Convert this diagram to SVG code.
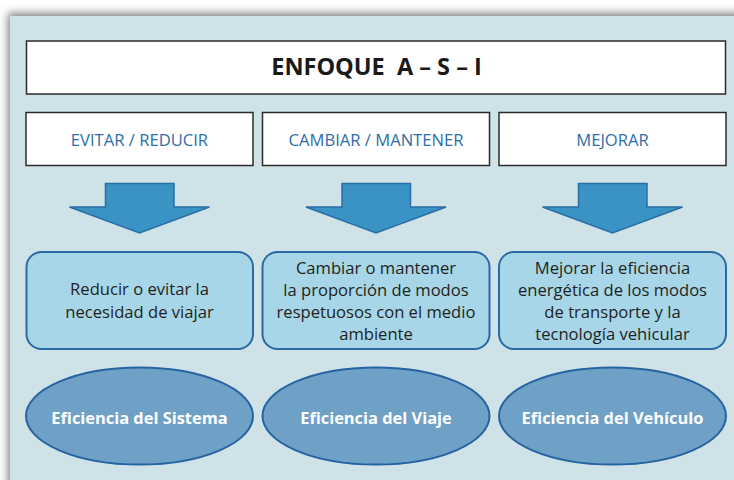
<svg xmlns="http://www.w3.org/2000/svg" width="734" height="480" viewBox="0 0 734 480">
<style>
  .hdr { fill:#fff; stroke:#2b2b2b; stroke-width:1.5; }
  .hdrtxt { font-family:"Open Sans","Noto Sans",sans-serif; font-size:16.6px; fill:#2e6ea6; text-anchor:middle; }
  .title { font-family:"Open Sans","Noto Sans",sans-serif; font-size:23.5px; font-weight:bold; fill:#1a1a1a; text-anchor:middle; }
  .arrow { fill:#3a93c4; stroke:#2a6ea6; stroke-width:1.5; stroke-linejoin:miter; }
  .box { fill:#a6d6e7; stroke:#2a6aa3; stroke-width:2; }
  .boxtxt { font-family:"Open Sans","Noto Sans",sans-serif; font-size:16.6px; fill:#231f20; text-anchor:middle; }
  .ell { fill:#6fa1c7; stroke:#2563a1; stroke-width:2; }
  .elltxt { font-family:"Open Sans","Noto Sans",sans-serif; font-size:16.4px; font-weight:bold; fill:#fff; text-anchor:middle; }
</style>
<defs>
  <filter id="sh" x="-5%" y="-5%" width="110%" height="110%">
    <feDropShadow dx="-2" dy="-3" stdDeviation="4.5" flood-color="#000" flood-opacity="0.5"/>
  </filter>
</defs>
<rect width="734" height="480" fill="#fff"/>
<rect id="panel" x="10" y="16" width="740" height="480" fill="#cfe2e8" filter="url(#sh)"/>

<g id="title">
  <rect class="hdr" x="26.5" y="41" width="699" height="53"/>
  <text class="title" x="376.5" y="75" xml:space="preserve">ENFOQUE  A – S – I</text>
</g>

<g id="h1">
  <rect class="hdr" x="26" y="112.5" width="227" height="53"/>
  <text class="hdrtxt" x="139.5" y="145.5">EVITAR / REDUCIR</text>
</g>
<g id="h2">
  <rect class="hdr" x="262.5" y="112.5" width="227" height="53"/>
  <text class="hdrtxt" x="376" y="145.5">CAMBIAR / MANTENER</text>
</g>
<g id="h3">
  <rect class="hdr" x="499" y="112.5" width="227" height="53"/>
  <text class="hdrtxt" x="612.5" y="145.5">MEJORAR</text>
</g>

<g id="connectors">
  <path class="arrow" d="M105.5,183.5 H174 V207 H209.5 L139.5,233 L69.5,207 H105.5 Z"/>
  <path class="arrow" d="M342,183.5 H410.5 V207 H446 L376,233 L306,207 H342 Z"/>
  <path class="arrow" d="M578.5,183.5 H647 V207 H682.5 L612.5,233 L542.5,207 H578.5 Z"/>
</g>

<g id="b1">
  <rect class="box" x="26.5" y="252" width="226.5" height="97" rx="15"/>
  <text class="boxtxt" x="139.5" y="295">Reducir o evitar la</text>
  <text class="boxtxt" x="139.5" y="317.5">necesidad de viajar</text>
</g>
<g id="b2">
  <rect class="box" x="262.5" y="252" width="227" height="97" rx="15"/>
  <text class="boxtxt" x="376" y="273.5">Cambiar o mantener</text>
  <text class="boxtxt" x="376" y="295.5">la proporción de modos</text>
  <text class="boxtxt" x="376" y="317.5">respetuosos con el medio</text>
  <text class="boxtxt" x="376" y="339.5">ambiente</text>
</g>
<g id="b3">
  <rect class="box" x="499" y="252" width="227" height="97" rx="15"/>
  <text class="boxtxt" x="612.5" y="273.5">Mejorar la eficiencia</text>
  <text class="boxtxt" x="612.5" y="295.5">energética de los modos</text>
  <text class="boxtxt" x="612.5" y="317.5">de transporte y la</text>
  <text class="boxtxt" x="612.5" y="339.5">tecnología vehicular</text>
</g>

<g id="e1">
  <ellipse class="ell" cx="139.5" cy="416" rx="113.5" ry="48.5"/>
  <text class="elltxt" x="139.5" y="423.5">Eficiencia del Sistema</text>
</g>
<g id="e2">
  <ellipse class="ell" cx="376" cy="416" rx="113.5" ry="48.5"/>
  <text class="elltxt" x="376" y="423.5">Eficiencia del Viaje</text>
</g>
<g id="e3">
  <ellipse class="ell" cx="612.5" cy="416" rx="113.5" ry="48.5"/>
  <text class="elltxt" x="612.5" y="423.5">Eficiencia del Vehículo</text>
</g>
</svg>
